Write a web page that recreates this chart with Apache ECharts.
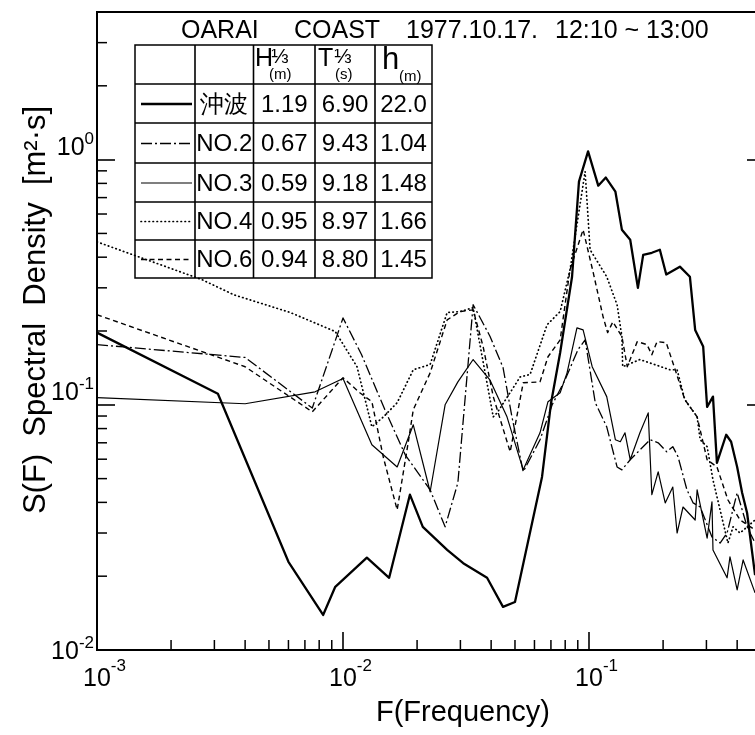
<!DOCTYPE html>
<html>
<head>
<meta charset="utf-8">
<title>OARAI COAST 1977.10.17</title>
<script src="https://cdn.jsdelivr.net/npm/echarts@6/dist/echarts.min.js"></script>
<style>
  html, body { margin: 0; padding: 0; background: #fff; }
  #chart { width: 755px; height: 735px; }
</style>
</head>
<body>
<div id="chart"></div>
<script>
// spectra: frequency [Hz] / S(F) [m2 s]
var freqOff = [0.001, 0.0031, 0.0060, 0.0083, 0.0093, 0.0125, 0.0154, 0.0187, 0.0211, 0.0265, 0.0308, 0.0385, 0.0447, 0.0500, 0.0644, 0.0701, 0.0763, 0.0853, 0.0910, 0.0991, 0.109, 0.117, 0.128, 0.136, 0.147, 0.158, 0.166, 0.180, 0.194, 0.206, 0.234, 0.257, 0.270, 0.291, 0.302, 0.319, 0.331, 0.361, 0.378, 0.400, 0.419, 0.439, 0.473];
var specOff = [0.197, 0.111, 0.0229, 0.0139, 0.0181, 0.0238, 0.0197, 0.0430, 0.0318, 0.0256, 0.0226, 0.0197, 0.0150, 0.0157, 0.0508, 0.102, 0.163, 0.333, 0.813, 1.08, 0.783, 0.845, 0.740, 0.518, 0.471, 0.300, 0.409, 0.417, 0.429, 0.340, 0.366, 0.333, 0.202, 0.173, 0.098, 0.108, 0.058, 0.0755, 0.0707, 0.0558, 0.0438, 0.0362, 0.0202];

var freqNo2 = [0.001, 0.0040, 0.0075, 0.0100, 0.0119, 0.0148, 0.0179, 0.0226, 0.0260, 0.0293, 0.0338, 0.0396, 0.0447, 0.0486, 0.0540, 0.0632, 0.0708, 0.0798, 0.0902, 0.0964, 0.106, 0.118, 0.130, 0.136, 0.147, 0.177, 0.191, 0.207, 0.219, 0.230, 0.250, 0.265, 0.283, 0.316, 0.341, 0.364, 0.400, 0.439, 0.473];
var specNo2 = [0.176, 0.156, 0.097, 0.226, 0.160, 0.0955, 0.0625, 0.0450, 0.0318, 0.0481, 0.256, 0.190, 0.142, 0.0893, 0.0533, 0.0720, 0.100, 0.126, 0.168, 0.184, 0.102, 0.0813, 0.0558, 0.0543, 0.0597, 0.0720, 0.0700, 0.0643, 0.0675, 0.0614, 0.0450, 0.0398, 0.0383, 0.0289, 0.0273, 0.0300, 0.0438, 0.0318, 0.0273];

var freqNo3 = [0.001, 0.0040, 0.0077, 0.0100, 0.0131, 0.0166, 0.0193, 0.0226, 0.0260, 0.0293, 0.0338, 0.0396, 0.0464, 0.0540, 0.0632, 0.0681, 0.0763, 0.0814, 0.0893, 0.0946, 0.103, 0.118, 0.128, 0.134, 0.140, 0.147, 0.161, 0.174, 0.180, 0.191, 0.204, 0.219, 0.228, 0.241, 0.270, 0.275, 0.302, 0.316, 0.319, 0.364, 0.374, 0.400, 0.423, 0.473];
var specNo3 = [0.107, 0.101, 0.113, 0.128, 0.0687, 0.0558, 0.0829, 0.0442, 0.100, 0.124, 0.153, 0.126, 0.0893, 0.0543, 0.0769, 0.103, 0.112, 0.135, 0.206, 0.202, 0.143, 0.108, 0.0720, 0.0707, 0.0769, 0.0597, 0.0769, 0.0927, 0.0430, 0.0533, 0.0398, 0.0462, 0.0300, 0.0383, 0.0339, 0.0450, 0.0286, 0.0402, 0.0256, 0.0197, 0.0240, 0.0176, 0.0233, 0.0171];

var freqNo4 = [0.001, 0.00267, 0.0036, 0.0061, 0.0093, 0.0114, 0.0131, 0.0146, 0.0166, 0.0193, 0.0226, 0.0265, 0.0299, 0.0338, 0.0408, 0.0423, 0.0525, 0.0576, 0.0675, 0.0763, 0.0837, 0.0964, 0.101, 0.118, 0.130, 0.136, 0.137, 0.161, 0.213, 0.228, 0.245, 0.275, 0.283, 0.302, 0.319, 0.367, 0.385, 0.411, 0.473];
var specNo4 = [0.462, 0.324, 0.281, 0.238, 0.199, 0.143, 0.0813, 0.0893, 0.102, 0.139, 0.146, 0.238, 0.240, 0.249, 0.0893, 0.0927, 0.130, 0.133, 0.212, 0.240, 0.356, 0.894, 0.429, 0.333, 0.256, 0.190, 0.143, 0.153, 0.139, 0.139, 0.105, 0.0893, 0.0720, 0.0675, 0.0494, 0.0273, 0.0318, 0.0300, 0.0339];

var freqNo6 = [0.001, 0.0040, 0.0075, 0.0100, 0.0117, 0.0131, 0.0146, 0.0166, 0.0184, 0.0193, 0.0226, 0.0265, 0.0299, 0.0338, 0.0371, 0.0408, 0.0478, 0.0540, 0.0632, 0.0681, 0.0763, 0.0837, 0.0946, 0.104, 0.114, 0.119, 0.125, 0.136, 0.143, 0.157, 0.172, 0.180, 0.189, 0.206, 0.224, 0.245, 0.275, 0.302, 0.331, 0.367, 0.411, 0.473];
var specNo6 = [0.233, 0.143, 0.0936, 0.129, 0.112, 0.103, 0.0608, 0.0373, 0.0700, 0.0955, 0.135, 0.222, 0.240, 0.244, 0.173, 0.108, 0.0643, 0.123, 0.124, 0.157, 0.184, 0.356, 0.518, 0.346, 0.229, 0.197, 0.218, 0.190, 0.143, 0.181, 0.176, 0.160, 0.181, 0.179, 0.139, 0.105, 0.0893, 0.0597, 0.0558, 0.0409, 0.0339, 0.0309];

// table in the upper left
var stations = ['沖波', 'NO.2', 'NO.3', 'NO.4', 'NO.6'];
var hThird = ['1.19', '0.67', '0.59', '0.95', '0.94'];
var tThird = ['6.90', '9.43', '9.18', '8.97', '8.80'];
var depth = ['22.0', '1.04', '1.48', '1.66', '1.45'];

// axis ranges and ticks
var xMin = 0.001, xMax = 0.5;
var yMin = 0.01, yMax = 4;
var minorX = [0.002, 0.003, 0.004, 0.005, 0.006, 0.007, 0.008, 0.009,
              0.02, 0.03, 0.04, 0.05, 0.06, 0.07, 0.08, 0.09,
              0.2, 0.3, 0.4];
var minorY = [0.02, 0.03, 0.04, 0.05, 0.06, 0.07, 0.08, 0.09,
              0.2, 0.3, 0.4, 0.5, 0.6, 0.7, 0.8, 0.9,
              2, 3];

var FONT = "'Liberation Sans', Arial, sans-serif";

var lineStyles = [
  { width: 2.3, type: 'solid' },
  { width: 1.3, type: [11, 3, 2, 3] },
  { width: 1.2, type: 'solid' },
  { width: 1.7, type: [0.5, 3.5], cap: 'round' },
  { width: 1.4, type: [5, 3.5] }
];
var freqs = [freqOff, freqNo2, freqNo3, freqNo4, freqNo6];
var specs = [specOff, specNo2, specNo3, specNo4, specNo6];

function zip(a, b) {
  return a.map(function (v, i) { return [v, b[i]]; });
}
function log10(v) { return Math.log(v) / Math.LN10; }
function isDecade(v) {
  var e = log10(v);
  return Math.abs(e - Math.round(e)) < 1e-6;
}

var chart = echarts.init(document.getElementById('chart'), null, { renderer: 'canvas' });

var lineSeries = stations.map(function (name, i) {
  var ls = lineStyles[i];
  return {
    name: name,
    type: 'line',
    data: zip(freqs[i], specs[i]),
    symbol: 'none',
    z: 3,
    lineStyle: {
      color: '#000',
      width: ls.width,
      type: ls.type,
      cap: ls.cap || 'butt',
      join: 'round'
    }
  };
});

function minorTicks(values, dir) {
  return {
    type: 'custom',
    silent: true,
    clip: false,
    z: 4,
    data: values.map(function (v) { return dir === 'x' ? [v, yMin] : [xMin, v]; }),
    renderItem: function (params, api) {
      var p = api.coord([api.value(0), api.value(1)]);
      var q = dir === 'x' ? [p[0], p[1] - 10] : [p[0] + 10, p[1]];
      return {
        type: 'line',
        shape: { x1: p[0], y1: p[1], x2: q[0], y2: q[1] },
        style: { stroke: '#000', lineWidth: 1.5 }
      };
    }
  };
}

// table graphic
var colX = [135, 195, 253.5, 315, 375, 432];
var rowY = [45, 84, 123, 163, 202, 240, 278];
var table = [];
table.push({
  type: 'rect',
  shape: { x: colX[0], y: rowY[0], width: colX[5] - colX[0], height: rowY[6] - rowY[0] },
  style: { fill: '#fff', stroke: '#000', lineWidth: 1.5 }
});
colX.slice(1, 5).forEach(function (x) {
  table.push({ type: 'line', shape: { x1: x, y1: rowY[0], x2: x, y2: rowY[6] },
               style: { stroke: '#000', lineWidth: 1.6 } });
});
rowY.slice(1, 6).forEach(function (y) {
  table.push({ type: 'line', shape: { x1: colX[0], y1: y, x2: colX[5], y2: y },
               style: { stroke: '#000', lineWidth: 1.6 } });
});

function txt(s, x, y, size, align) {
  return {
    type: 'text', x: x, y: y,
    style: { text: s, fill: '#000', font: size + 'px ' + FONT,
             textAlign: align || 'left', textVerticalAlign: 'middle' }
  };
}
// header
table.push(txt('H', 255, 59, 25));
table.push(txt('⅓', 271, 57, 21));
table.push(txt('(m)', 269, 75, 15));
table.push(txt('T', 318, 59, 25));
table.push(txt('⅓', 334, 57, 21));
table.push(txt('(s)', 335, 75, 15));
table.push(txt('h', 382, 60, 31));
table.push(txt('(m)', 399, 77, 15));

stations.forEach(function (name, i) {
  var cy = (rowY[i + 1] + rowY[i + 2]) / 2 + 1.5;
  var ls = lineStyles[i];
  table.push({
    type: 'line',
    shape: { x1: 141, y1: cy - 1, x2: 192, y2: cy - 1 },
    style: { stroke: '#000', lineWidth: ls.width,
             lineDash: ls.type === 'solid' ? null : ls.type,
             lineCap: ls.cap || 'butt' }
  });
  table.push(txt(name, (colX[1] + colX[2]) / 2, cy, 24, 'center'));
  table.push(txt(hThird[i], (colX[2] + colX[3]) / 2, cy, 24, 'center'));
  table.push(txt(tThird[i], (colX[3] + colX[4]) / 2, cy, 24, 'center'));
  table.push(txt(depth[i], (colX[4] + colX[5]) / 2, cy, 24, 'center'));
});

var titleParts = [
  txt('OARAI', 181, 31, 25),
  txt('COAST', 294, 31, 25),
  txt('1977.10.17.', 406, 31, 25),
  txt('12:10 ~ 13:00', 555, 31, 25)
];

var yName = txt('S(F)  Spectral  Density  [m²·s]', 36, 310, 31, 'center');
yName.rotation = Math.PI / 2;
var xName = txt('F(Frequency)', 463, 713, 29, 'center');

var xRich = {
  b: { fontSize: 25, fontFamily: FONT, color: '#000', lineHeight: 34, verticalAlign: 'bottom', padding: [0, 0, 0, 15] },
  s: { fontSize: 17, fontFamily: FONT, color: '#000', lineHeight: 14, verticalAlign: 'top' }
};
var yRich = {
  b: { fontSize: 25, fontFamily: FONT, color: '#000', lineHeight: 30, verticalAlign: 'bottom' },
  s: { fontSize: 17, fontFamily: FONT, color: '#000', lineHeight: 14, verticalAlign: 'top' },
  sp: { fontSize: 10, lineHeight: 28 }
};

var option = {
  backgroundColor: '#fff',
  animation: false,
  grid: {
    left: 97, right: -6, top: 12, bottom: 85,
    containLabel: false,
    outerBoundsMode: 'none',
    show: true, borderColor: '#000', borderWidth: 2, backgroundColor: 'transparent'
  },
  xAxis: [{
    type: 'log', logBase: 10, min: xMin, max: xMax, position: 'bottom',
    axisLine: { show: true, lineStyle: { color: '#000', width: 2 } },
    axisTick: { show: true, inside: true, length: 18, lineStyle: { color: '#000', width: 1.6 } },
    axisLabel: {
      show: true, margin: 8, showMaxLabel: false,
      formatter: function (v) {
        if (!isDecade(v)) return '';
        return '{b|10}{s|' + Math.round(log10(v)) + '}';
      },
      rich: xRich
    },
    splitLine: { show: false }, minorTick: { show: false }
  }],
  yAxis: [{
    type: 'log', logBase: 10, min: yMin, max: yMax, position: 'left',
    axisLine: { show: true, lineStyle: { color: '#000', width: 2 } },
    axisTick: { show: true, inside: true, length: 18, lineStyle: { color: '#000', width: 1.6 } },
    axisLabel: {
      show: true, margin: 3, showMaxLabel: false, verticalAlign: 'middle',
      formatter: function (v) {
        if (!isDecade(v)) return '';
        var e = Math.round(log10(v));
        // the lowest label sits on the axis, the others stand above their tick
        return '{b|10}{s|' + e + '}' + (e === -2 ? '' : '\n{sp| }');
      },
      rich: yRich
    },
    splitLine: { show: false }
  }, {
    type: 'log', logBase: 10, min: yMin, max: yMax, position: 'right',
    axisLine: { show: true, lineStyle: { color: '#000', width: 2 } },
    axisTick: { show: true, inside: true, length: 14, lineStyle: { color: '#000', width: 1.6 } },
    axisLabel: { show: false },
    splitLine: { show: false }
  }],
  graphic: [{
    type: 'group', z: 50,
    children: table.concat(titleParts, [yName, xName])
  }],
  series: lineSeries.concat([minorTicks(minorX, 'x'), minorTicks(minorY, 'y')])
};

chart.setOption(option);
</script>
</body>
</html>
